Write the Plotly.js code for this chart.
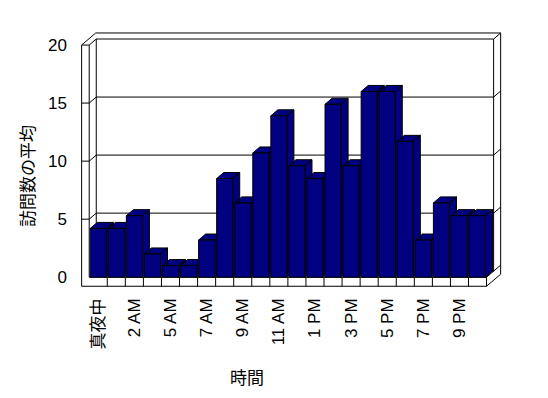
<!DOCTYPE html>
<html>
<head>
<meta charset="utf-8">
<script src="https://cdn.plot.ly/plotly-3.0.1.min.js"></script>
<style>html,body{margin:0;padding:0;background:#fff;}#chart{width:548px;height:398px;}</style>
</head>
<body>
<div id="chart"></div>
<script>
// Data
var categories = ["真夜中","1 AM","2 AM","3 AM","5 AM","6 AM","7 AM","8 AM","9 AM","10 AM","11 AM","12 PM",
                  "1 PM","2 PM","3 PM","4 PM","5 PM","6 PM","7 PM","8 PM","9 PM","10 PM"];
var visits = [4.2, 4.2, 5.3, 2.0, 1.0, 1.0, 3.2, 8.5, 6.4, 10.7, 13.9, 9.6,
              8.5, 14.9, 9.6, 16.0, 16.0, 11.7, 3.2, 6.4, 5.3, 5.3];
var yTicks = [0, 5, 10, 15, 20];
var yTitle = "訪問数の平均";
var xTitle = "時間";

// 3D look (data units)
var DX = 0.39, DY = 0.52, WT = 0.42, FT = 0.78, BW = 0.887;
var N = categories.length;
var X0 = -0.5, X1 = N - 0.5, VMAX = 20;

var idx = categories.map(function(_, i){ return i; });
var tickIdx = idx.filter(function(i){ return i % 2 === 0 && i < N - 1; });

// polygons for top + side faces
var px = [], py = [];
visits.forEach(function(v, i){
  var xl = i - BW/2, xr = i + BW/2;
  px.push(xl, xl+DX, xr+DX, xr+DX, xr, xr, xr+DX, xr, xl, null);
  py.push(v, v+DY, v+DY, DY, 0, v, v+DY, v, v, null);
});

var shapes = [];
function seg(x0,y0,x1,y1){
  shapes.push({type:'line', xref:'x', yref:'y', x0:x0, y0:y0, x1:x1, y1:y1,
               line:{color:'#000', width:1}, layer:'below'});
}
// left wall
seg(X0-WT, -FT, X0-WT, VMAX);
seg(X0, 0, X0, VMAX);
seg(X0-WT, VMAX, X0, VMAX);
seg(X0-WT, VMAX, X0-WT+2*DX, VMAX+2*DY);
seg(X0, VMAX, X0+DX, VMAX+DY);
// back wall
seg(X0+DX, DY, X0+DX, VMAX+DY);
seg(X0+DX, VMAX+DY, X1+DX, VMAX+DY);
seg(X0-WT+2*DX, VMAX+2*DY, X1+2*DX, VMAX+2*DY);
seg(X1+DX, DY, X1+DX, VMAX+DY);
seg(X1+2*DX, 2*DY-FT, X1+2*DX, VMAX+2*DY);
seg(X1+DX, VMAX+DY, X1+2*DX, VMAX+2*DY);
// gridlines
yTicks.forEach(function(v){
  if (v === 0) {
    seg(X0+DX, DY, X1+DX, DY);
    seg(X0, 0, X0+DX, DY);
  } else if (v < VMAX) {
    seg(X0+DX, v+DY, X1+DX, v+DY);
    seg(X0, v, X0+DX, v+DY);
    seg(X0-WT, v, X0, v);
    seg(X1+DX, v+DY, X1+2*DX, v+2*DY);
  }
});
// floor
seg(X0-WT, -FT, X1, -FT);
seg(X0, 0, X1, 0);
seg(X1, -FT, X1, 0);
for (var k = 1; k < N; k++) seg(X0+k, -FT, X0+k, 0);
seg(X1, 0, X1+2*DX, 2*DY);
seg(X1, -FT, X1+2*DX, 2*DY-FT);

var xr = [-1.01, 22.41], yr = [-0.93, 21.21];

var traces = [
  {type:'scatter', x:px, y:py, mode:'lines', fill:'toself', fillcolor:'#000080',
   line:{color:'#000', width:1}, hoverinfo:'skip', xaxis:'x', yaxis:'y', showlegend:false},
  {type:'bar', x:idx, y:visits, width:BW, marker:{color:'#000080', line:{color:'#000', width:1}},
   hoverinfo:'skip', xaxis:'x2', yaxis:'y2', showlegend:false}
];

var tickFont = {family:'"Liberation Sans", Arial, "Noto Sans CJK JP", sans-serif', size:17, color:'#000'};
var layout = {
  width:548, height:398,
  margin:{l:80, r:45, t:31, b:110},
  paper_bgcolor:'#fff', plot_bgcolor:'#fff',
  showlegend:false, hovermode:false,
  xaxis:{range:xr, showgrid:false, zeroline:false, showline:false, ticks:'',
         tickmode:'array', tickvals:tickIdx, ticktext:tickIdx.map(function(i){return categories[i];}),
         tickangle:-90, tickfont:tickFont, ticklabelstandoff:6, fixedrange:true},
  yaxis:{range:yr, showgrid:false, zeroline:false, showline:false, ticks:'',
         tickmode:'array', tickvals:yTicks, ticktext:yTicks.map(String),
         tickfont:tickFont, ticklabelstandoff:12, fixedrange:true},
  xaxis2:{range:xr, overlaying:'x', visible:false, fixedrange:true},
  yaxis2:{range:yr, overlaying:'y', visible:false, fixedrange:true},
  shapes:shapes,
  annotations:[
    {text:yTitle, xref:'paper', yref:'paper', x:-0.125, y:0.436, xanchor:'center', yanchor:'middle',
     textangle:-90, showarrow:false,
     font:{family:'"Noto Sans CJK JP", sans-serif', size:17, color:'#000'}},
    {text:xTitle, xref:'paper', yref:'paper', x:0.395, y:-0.346, xanchor:'center', yanchor:'middle',
     showarrow:false,
     font:{family:'"Noto Sans CJK JP", sans-serif', size:17, color:'#000'}}
  ]
};
Plotly.newPlot('chart', traces, layout, {staticPlot:true, displayModeBar:false});
</script>
</body>
</html>
